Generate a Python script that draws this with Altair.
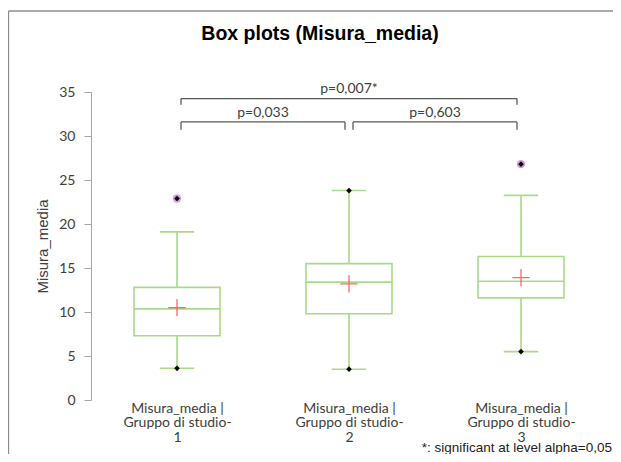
import json
import altair as alt
import pandas as pd

# ---------------- data ----------------
categories = [
    "Misura_media |\nGruppo di studio-\n1",
    "Misura_media |\nGruppo di studio-\n2",
    "Misura_media |\nGruppo di studio-\n3",
]
group_index = [1, 2, 3]
whisker_low = [3.6, 3.5, 5.5]
q1 = [7.3, 9.8, 11.6]
median = [10.35, 13.4, 13.5]
q3 = [12.8, 15.5, 16.3]
whisker_high = [19.1, 23.8, 23.25]
mean = [10.5, 13.2, 13.9]

point_group = [1, 1, 2, 2, 3, 3]
point_value = [22.9, 3.6, 23.8, 3.5, 26.8, 5.5]
point_kind = ["outlier", "extreme", "extreme", "extreme", "outlier", "extreme"]

cmp_left = [1, 1, 2]
cmp_right = [3, 2, 3]
cmp_level = [34.25, 31.6, 31.6]
cmp_end = [33.55, 30.7, 30.7]
cmp_label_y = [35.35, 32.6, 32.6]
cmp_label = ["p=0,007*", "p=0,033", "p=0,603"]

y_ticks = [0, 5, 10, 15, 20, 25, 30, 35]
footnote = ["*: significant at level alpha=0,05"]

# ---------------- tables ----------------
box_df = pd.DataFrame({
    "g": group_index, "lo": whisker_low, "q1": q1, "med": median,
    "q3": q3, "hi": whisker_high, "mean": mean,
})
pts_df = pd.DataFrame({"g": point_group, "v": point_value, "kind": point_kind})
cmp_df = pd.DataFrame({
    "left": cmp_left, "right": cmp_right, "level": cmp_level,
    "end": cmp_end, "ly": cmp_label_y, "label": cmp_label,
})
foot_df = pd.DataFrame({"t": footnote})

GREEN = "#a9d98a"
CAL = "Lato"
ARIAL = "Liberation Sans"
TXT = "#404040"

label_expr = "split(" + json.dumps(categories) + "[datum.value - 1], '\\n')"

x_axis = alt.Axis(values=group_index, labelExpr=label_expr, title=None, domain=False,
                  ticks=False, grid=False, labelPadding=1, labelFont=CAL, labelFontSize=14,
                  labelColor=TXT, labelLineHeight=14.5, labelAngle=0, labelBaseline="top",
                  labelOverlap=False, labelFlush=False)
x_scale = alt.Scale(domain=[0.5, 3.5], nice=False, zero=False, padding=0)
y_scale = alt.Scale(domain=[0, 35], nice=False, padding=0)
y_axis = alt.Axis(values=y_ticks, grid=False, domainColor="#a6a6a6", tickColor="#a6a6a6",
                  tickSize=7, labelPadding=9, labelFont=CAL, labelFontSize=14, labelColor=TXT,
                  title="Misura_media", titleFont=ARIAL, titleFontSize=15, titleFontWeight="normal",
                  titleColor=TXT, titlePadding=8)


def X(field):
    return alt.X(field, type="quantitative", scale=x_scale, axis=x_axis)


def Y(field):
    return alt.Y(field, type="quantitative", scale=y_scale, axis=y_axis)


base = alt.Chart(box_df)

whisk_low_rule = base.mark_rule(color=GREEN, strokeWidth=1.6).encode(x=X("g"), y=Y("lo"), y2="q1")
whisk_high_rule = base.mark_rule(color=GREEN, strokeWidth=1.6).encode(x=X("g"), y=Y("q3"), y2="hi")
box = base.mark_bar(fill="white", stroke=GREEN, strokeWidth=1.6, size=86, orient="vertical").encode(
    x=X("g"), y=Y("q1"), y2="q3")
med = base.transform_calculate(a="datum.g - 0.25", b="datum.g + 0.25").mark_rule(
    color=GREEN, strokeWidth=1.6).encode(x=X("a"), x2="b", y=Y("med"))
cap_lo = base.transform_calculate(a="datum.g - 0.1", b="datum.g + 0.1").mark_rule(
    color=GREEN, strokeWidth=1.6).encode(x=X("a"), x2="b", y=Y("lo"))
cap_hi = base.transform_calculate(a="datum.g - 0.1", b="datum.g + 0.1").mark_rule(
    color=GREEN, strokeWidth=1.6).encode(x=X("a"), x2="b", y=Y("hi"))
mean_pt = base.mark_point(shape="M-1,0L1,0M0,-1L0,1", size=300, filled=False,
                          stroke="#ff4d4d", strokeWidth=1.3, opacity=0.85).encode(x=X("g"), y=Y("mean"))

pts = alt.Chart(pts_df)
halo = pts.transform_filter("datum.kind == 'outlier'").mark_point(
    shape="circle", size=70, filled=True, color="#c070d0", opacity=0.7).encode(x=X("g"), y=Y("v"))
dots = pts.mark_point(shape="diamond", size=32, filled=True, color="black", opacity=1).encode(
    x=X("g"), y=Y("v"))

cmp = alt.Chart(cmp_df)
BR = "#595959"
br_h = cmp.mark_rule(color=BR, strokeWidth=1.3, xOffset=4, x2Offset=-4).encode(
    x=X("left"), x2="right", y=Y("level"))
br_l = cmp.mark_rule(color=BR, strokeWidth=1.3, xOffset=4).encode(x=X("left"), y=Y("level"), y2="end")
br_r = cmp.mark_rule(color=BR, strokeWidth=1.3, xOffset=-4).encode(x=X("right"), y=Y("level"), y2="end")
br_t = cmp.transform_calculate(mid="(datum.left + datum.right) / 2").mark_text(
    font=CAL, fontSize=14, color=TXT, baseline="middle", align="center").encode(
    x=X("mid"), y=Y("ly"), text="label:N")

foot = alt.Chart(foot_df).mark_text(font=ARIAL, fontSize=13.5, color="#222222", align="right",
                                    baseline="alphabetic").encode(
    x=alt.value(521), y=alt.value(359.5), text="t:N")

frame_top = alt.Chart(foot_df).mark_rule(stroke="#8c8c8c", strokeWidth=1.3).encode(
    x=alt.value(-82.5), x2=alt.value(1000), y=alt.value(-81))
frame_left = alt.Chart(foot_df).mark_rule(stroke="#8c8c8c", strokeWidth=1.3).encode(
    x=alt.value(-82.5), y=alt.value(-81), y2=alt.value(1000))

chart = alt.layer(
    frame_top, frame_left, whisk_low_rule, whisk_high_rule, box, med, cap_lo, cap_hi, mean_pt,
    halo, dots, br_h, br_l, br_r, br_t, foot,
).properties(
    width=516, height=308,
    title=alt.TitleParams("Box plots (Misura_media)", font=ARIAL, fontSize=19.5, fontWeight="bold",
                          color="black", anchor="middle", frame="group", offset=-34, dx=-29),
    autosize=alt.AutoSizeParams(type="none"),
    padding={"left": 83, "top": 84, "right": 6, "bottom": 54},
).configure_view(stroke=None)

chart.save("out.html", embed_options={"renderer": "svg", "actions": False})
